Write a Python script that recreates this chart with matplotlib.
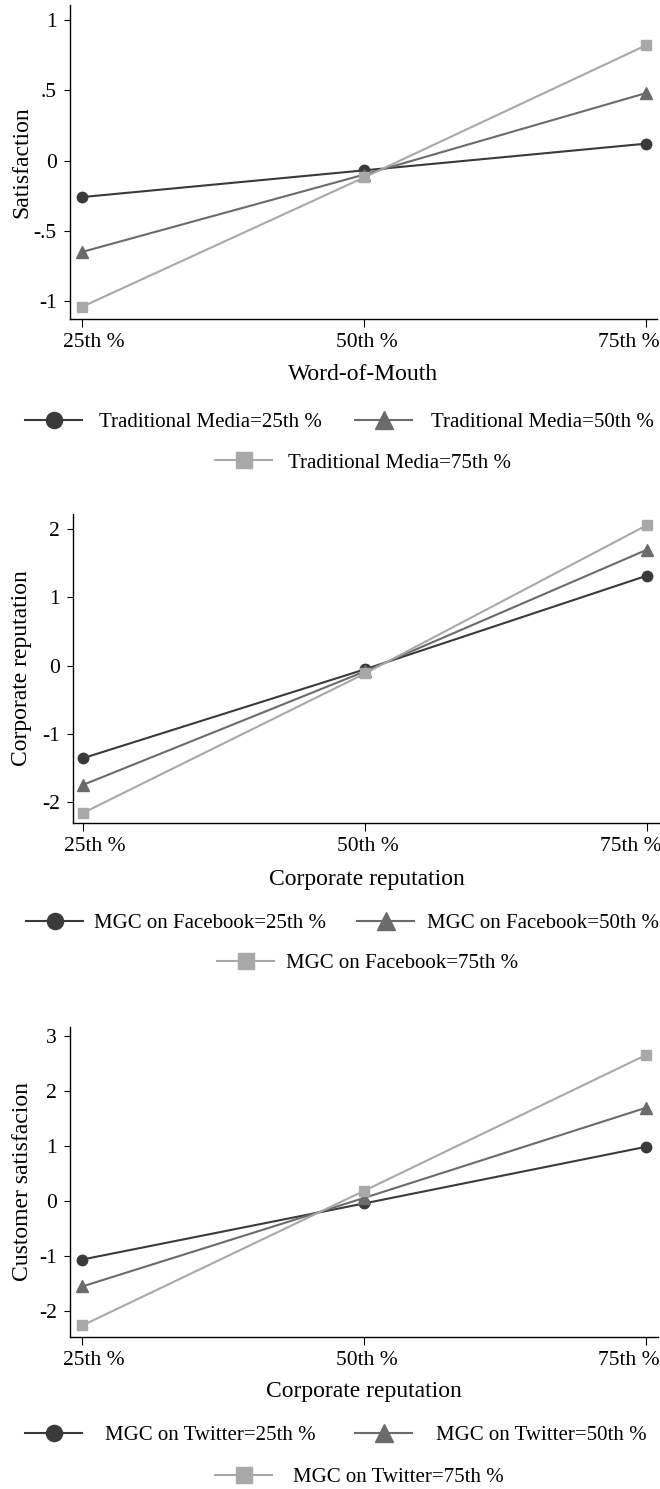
import matplotlib
matplotlib.use('Agg')
import matplotlib.pyplot as plt
from matplotlib.lines import Line2D
from matplotlib.transforms import ScaledTranslation

plt.rcParams['font.family'] = ['Liberation Serif', 'DejaVu Serif']
plt.rcParams['axes.unicode_minus'] = False

W, H = 660, 1489
DPI = 100

pct_labels = ['25th %', '50th %', '75th %']
xpos = [0, 1, 2]

# panel 1: Satisfaction vs Word-of-Mouth, by Traditional Media
trad25 = [-0.26, -0.07, 0.12]
trad50 = [-0.65, -0.10, 0.48]
trad75 = [-1.04, -0.12, 0.82]
trad_names = ['Traditional Media=25th %', 'Traditional Media=50th %', 'Traditional Media=75th %']

# panel 2: Corporate reputation, by MGC on Facebook
fb25 = [-1.35, -0.05, 1.32]
fb50 = [-1.74, -0.08, 1.70]
fb75 = [-2.15, -0.11, 2.06]
fb_names = ['MGC on Facebook=25th %', 'MGC on Facebook=50th %', 'MGC on Facebook=75th %']

# panel 3: Customer satisfacion vs Corporate reputation, by MGC on Twitter
tw25 = [-1.06, -0.04, 0.99]
tw50 = [-1.55, 0.06, 1.70]
tw75 = [-2.26, 0.19, 2.66]
tw_names = ['MGC on Twitter=25th %', 'MGC on Twitter=50th %', 'MGC on Twitter=75th %']

colors = ['#3a3a3a', '#6b6b6b', '#a8a8a8']
markers = ['o', '^', 's']
msizes = [7.5, 8, 7]

fig = plt.figure(figsize=(W / DPI, H / DPI), dpi=DPI)


def px_axes(left, top, right, bottom):
    return fig.add_axes([left / W, 1 - bottom / H, (right - left) / W, (bottom - top) / H])


def panel(box, xlim, ylim, yticks, ytlabels, series, xlabel, ylabel, lab_y, names, leg):
    left, top, right, bottom = box
    ax = px_axes(*box)
    for s, c, m, ms in zip(series, colors, markers, msizes):
        ax.plot(xpos, s, color=c, marker=m, markersize=ms, lw=1.5)
    ax.set_xlim(*xlim)
    ax.set_ylim(*ylim)
    for sp in ['top', 'right']:
        ax.spines[sp].set_visible(False)
    for sp in ['left', 'bottom']:
        ax.spines[sp].set_linewidth(1.0)
    ax.set_yticks(yticks)
    ax.set_yticklabels(ytlabels)
    ax.set_xticks(xpos)
    ax.set_xticklabels(pct_labels)
    ax.tick_params(axis='y', direction='out', length=4.5, width=0.8, pad=5, labelsize=15.5)
    ax.tick_params(axis='x', direction='out', length=6, width=0.8, pad=4, labelsize=15.5)
    for lbl, dx in zip(ax.get_xticklabels(), [11, 3, -17]):
        lbl.set_transform(lbl.get_transform() + ScaledTranslation(dx / DPI, 0, fig.dpi_scale_trans))
    aw, ah = right - left, bottom - top
    ax.set_xlabel(xlabel, fontsize=17, va='center')
    ax.xaxis.set_label_coords(0.5, -(lab_y - bottom) / ah)
    ax.set_ylabel(ylabel, fontsize=17, va='center')
    ax.yaxis.set_label_coords(-(left - 22) / aw, 0.5)

    fs = 15
    em = fs * DPI / 72
    for name, c, m, ms, (hx, hy, pad) in zip(names, colors, markers, msizes, leg):
        h = Line2D([], [], color=c, marker=m, markersize=ms * 1.55, lw=1.5)
        fig.legend([h], [name], loc='center left', bbox_to_anchor=(hx / W, 1 - hy / H),
                   bbox_transform=fig.transFigure, frameon=False, fontsize=fs,
                   borderpad=0, borderaxespad=0, handlelength=57 / em,
                   handletextpad=pad / em)
    return ax


panel((70, 5, 657, 319), (-0.044, 2.039), (-1.128, 1.107),
      [-1, -0.5, 0, 0.5, 1], ['-1', '-.5', '0', '.5', '1'],
      [trad25, trad50, trad75], 'Word-of-Mouth', 'Satisfaction', 375, trad_names,
      [(25, 422, 17), (355, 422, 19), (215, 463, 16)])

panel((73, 514, 660, 823), (-0.037, 2.045), (-2.30, 2.22),
      [-2, -1, 0, 1, 2], ['-2', '-1', '0', '1', '2'],
      [fb25, fb50, fb75], 'Corporate reputation', 'Corporate reputation', 880, fb_names,
      [(26, 923, 11), (357, 923, 13), (217, 963, 12)])

panel((70, 1027, 658, 1337), (-0.044, 2.043), (-2.47, 3.17),
      [-2, -1, 0, 1, 2, 3], ['-2', '-1', '0', '1', '2', '3'],
      [tw25, tw50, tw75], 'Corporate reputation', 'Customer satisfacion', 1392, tw_names,
      [(25, 1435, 23), (355, 1435, 24), (215, 1477, 21)])

fig.savefig('out.png', dpi=DPI)
